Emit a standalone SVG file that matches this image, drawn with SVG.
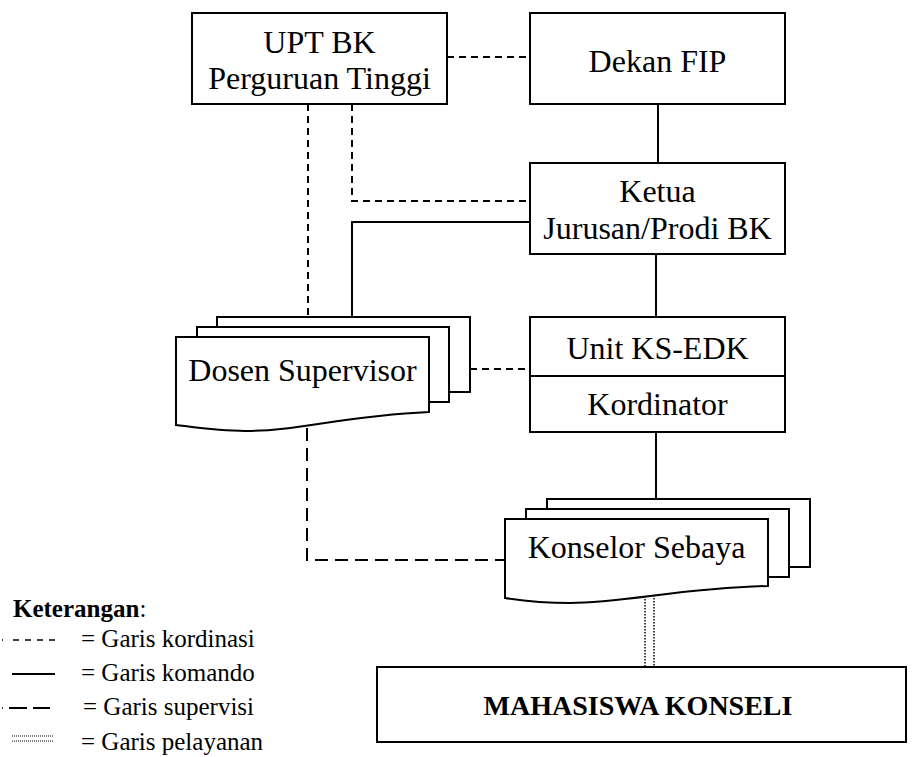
<svg xmlns="http://www.w3.org/2000/svg" width="917" height="757" viewBox="0 0 917 757">
<style>
  .box { fill: #fff; stroke: #000; stroke-width: 2; }
  .t { font-family: 'Liberation Serif', 'Times New Roman', serif; font-size: 32px; fill: #000; text-anchor: middle; }
  .tb { font-family: 'Liberation Serif', 'Times New Roman', serif; font-size: 28px; font-weight: bold; fill: #000; text-anchor: middle; }
  .lg { font-family: 'Liberation Serif', 'Times New Roman', serif; font-size: 25px; fill: #000; }
  .solid { fill: none; stroke: #000; stroke-width: 2; }
  .coord { fill: none; stroke: #000; stroke-width: 2; stroke-dasharray: 7 5; }
  .sup { fill: none; stroke: #000; stroke-width: 2; stroke-dasharray: 13 7; }
  .dot { fill: none; stroke: #000; stroke-width: 1.5; stroke-dasharray: 1.5 1.5; }
</style>
<rect width="917" height="757" fill="#fff"/>
<g id="connectors">
  <line class="coord" x1="447" y1="57" x2="530" y2="57"/>
  <line class="solid" x1="658" y1="104" x2="658" y2="163"/>
  <line class="solid" x1="656" y1="254" x2="656" y2="317"/>
  <line class="solid" x1="656" y1="432" x2="656" y2="499"/>
  <polyline class="coord" points="352,104 352,201 530,201"/>
  <line class="coord" x1="308" y1="104" x2="308" y2="317"/>
  <polyline class="solid" points="530,222 352,222 352,317"/>
  <line class="coord" x1="470" y1="369" x2="530" y2="369"/>
  <polyline class="sup" points="307,428 307,560 505,560"/>
  <line class="dot" x1="645" y1="596" x2="645" y2="667"/>
  <line class="dot" x1="654" y1="595" x2="654" y2="667"/>
</g>
<g id="upt">
  <rect class="box" x="192" y="13" width="255" height="91"/>
  <text class="t" x="319.5" y="53">UPT BK</text>
  <text class="t" x="319.5" y="89">Perguruan Tinggi</text>
</g>
<g id="dekan">
  <rect class="box" x="530" y="13" width="255" height="91"/>
  <text class="t" x="657.5" y="72">Dekan FIP</text>
</g>
<g id="ketua">
  <rect class="box" x="530" y="163" width="255" height="91"/>
  <text class="t" x="657.5" y="202">Ketua</text>
  <text class="t" x="657.5" y="239">Jurusan/Prodi BK</text>
</g>
<g id="unit">
  <rect class="box" x="530" y="317" width="255" height="115"/>
  <line class="solid" x1="530" y1="376" x2="785" y2="376"/>
  <text class="t" x="657.5" y="359">Unit KS-EDK</text>
  <text class="t" x="657.5" y="415">Kordinator</text>
</g>
<g id="dosen">
  <rect class="box" x="217" y="317" width="253" height="75"/>
  <rect class="box" x="197" y="327" width="252" height="75"/>
  <path class="box" d="M176,337 H429 V412 C340,416 300,431 245,431 C220,431 200,428 176,425 Z"/>
  <text class="t" x="302.5" y="381">Dosen Supervisor</text>
</g>
<g id="konselor">
  <rect class="box" x="547" y="499" width="263" height="68"/>
  <rect class="box" x="526" y="509" width="263" height="68"/>
  <path class="box" d="M505,519 H768 V586 C680,588 625,603 570,603 C545,603 525,601 505,598 Z"/>
  <text class="t" x="636.5" y="558">Konselor Sebaya</text>
</g>
<g id="mahasiswa">
  <rect class="box" x="377" y="667" width="529" height="75"/>
  <text class="tb" x="638" y="715">MAHASISWA KONSELI</text>
</g>
<g id="legend">
  <text class="lg" x="13" y="617"><tspan font-weight="bold">Keterangan</tspan>:</text>
  <line x1="2" y1="640" x2="3" y2="640" stroke="#000" stroke-width="1.5"/>
  <line x1="13" y1="640" x2="56" y2="640" stroke="#000" stroke-width="1.5" stroke-dasharray="6 6"/>
  <text class="lg" x="81" y="647">= Garis kordinasi</text>
  <line x1="12" y1="674" x2="55" y2="674" stroke="#000" stroke-width="2"/>
  <text class="lg" x="81" y="681">= Garis komando</text>
  <line x1="2" y1="708" x2="3" y2="708" stroke="#000" stroke-width="1.5"/>
  <line x1="9" y1="708" x2="27" y2="708" stroke="#000" stroke-width="2"/>
  <line x1="33" y1="708" x2="50" y2="708" stroke="#000" stroke-width="2"/>
  <text class="lg" x="83" y="715">= Garis supervisi</text>
  <line x1="12" y1="736" x2="54" y2="736" stroke="#000" stroke-width="1" stroke-dasharray="1 1"/>
  <line x1="12" y1="741" x2="54" y2="741" stroke="#000" stroke-width="1" stroke-dasharray="1 1"/>
  <text class="lg" x="81" y="750">= Garis pelayanan</text>
</g>
</svg>
